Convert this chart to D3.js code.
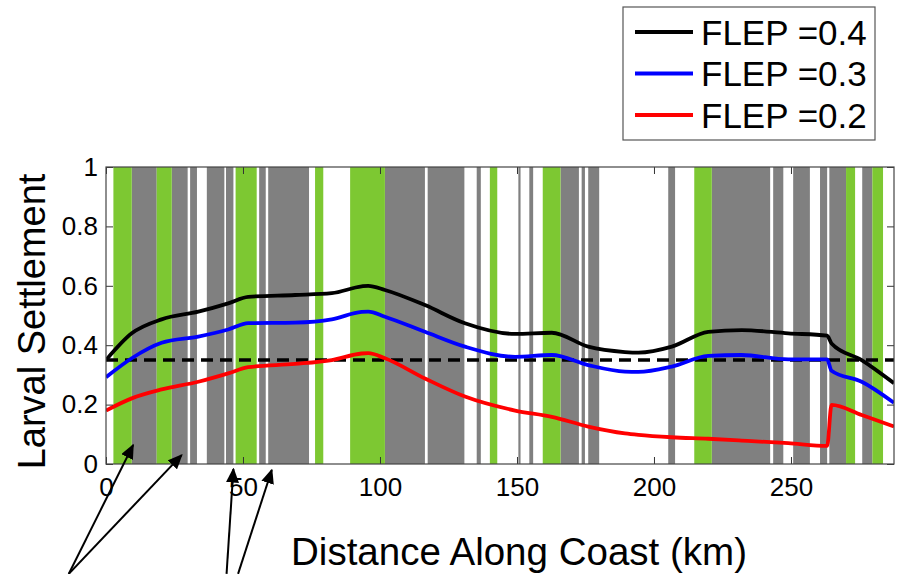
<!DOCTYPE html>
<html>
<head>
<meta charset="utf-8">
<script src="https://cdn.jsdelivr.net/npm/d3@7"></script>
<style>
  body { margin: 0; background: #fff; }
  text { font-family: "Liberation Sans", Arial, sans-serif; fill: #000; }
</style>
</head>
<body>
<svg id="chart" width="897" height="574"></svg>
<script>
// distance along coast (km) where each curve was sampled
const distance = [0, 9.4, 20.3, 33.7, 44.6, 51.9, 69, 82.4, 93.3, 95.7, 101.8, 116.4, 131, 149.3, 162.7, 176, 189.4, 194.3, 206.5, 219.8, 232, 249, 263.2, 264.8, 275.8, 287.6];
const flep04 = [0.35, 0.44, 0.487, 0.513, 0.541, 0.563, 0.569, 0.575, 0.598, 0.600, 0.586, 0.535, 0.474, 0.438, 0.442, 0.395, 0.377, 0.375, 0.395, 0.445, 0.451, 0.44, 0.432, 0.406, 0.35, 0.272];
const flep03 = [0.292, 0.356, 0.408, 0.429, 0.453, 0.474, 0.476, 0.487, 0.512, 0.513, 0.496, 0.445, 0.395, 0.361, 0.367, 0.333, 0.311, 0.31, 0.328, 0.364, 0.367, 0.352, 0.352, 0.314, 0.277, 0.206];
const flep02 = [0.18, 0.221, 0.251, 0.277, 0.305, 0.326, 0.337, 0.35, 0.372, 0.373, 0.356, 0.288, 0.227, 0.18, 0.159, 0.126, 0.103, 0.098, 0.09, 0.085, 0.079, 0.07, 0.061, 0.199, 0.165, 0.126];
const threshold = 0.35;

// habitat bands [start km, end km]
const greenBands = [[2.7, 9.4], [18.5, 24.0], [47.3, 55.0], [76.3, 79.3], [89.1, 101.8], [140.1, 142.8], [159.4, 165.9], [214.7, 221.1], [270.1, 273.4], [279.7, 283.6]];
const grayBands = [[9.4, 18.5], [24.0, 29.8], [30.7, 33.2], [36.8, 43.2], [43.8, 46.5], [55.9, 58.3], [59.2, 74.1], [101.8, 116.4], [117.4, 130.8], [135.3, 136.8], [150.5, 151.3], [154.5, 155.9], [165.9, 172.6], [173.6, 174.8], [176.0, 180.0], [205.2, 207.7], [221.1, 242.4], [243.5, 247.2], [250.8, 256.9], [260.6, 263.2], [264.0, 270.1], [276.0, 279.7]];

const xTicks = [0, 50, 100, 150, 200, 250];
const yTicks = [0, 0.2, 0.4, 0.6, 0.8, 1];

// annotation arrows: tail [km, value] -> tip [km, value]
const arrows = [[[-13.6, -0.37], [9.9, 0.064]], [[-13.6, -0.37], [27.6, 0.03]], [[44, -0.37], [46.5, -0.017]], [[48.2, -0.37], [60.5, -0.02]]];

const series = [
  {name: "FLEP =0.4", values: flep04, color: "#000"},
  {name: "FLEP =0.3", values: flep03, color: "#0000ff"},
  {name: "FLEP =0.2", values: flep02, color: "#ff0000"}
];

const svg = d3.select("#chart");
const mLeft = 106, mRight = 894, mTop = 167, mBottom = 464;

const x = d3.scaleLinear().domain([0, 287.6]).range([mLeft, mRight]);
const y = d3.scaleLinear().domain([0, 1]).range([mBottom, mTop]);

const defs = svg.append("defs");
defs.append("clipPath").attr("id", "plotclip")
  .append("rect").attr("x", mLeft).attr("y", mTop)
  .attr("width", mRight - mLeft).attr("height", mBottom - mTop);

const plot = svg.append("g").attr("clip-path", "url(#plotclip)");

plot.selectAll(".gray").data(grayBands).enter().append("rect")
  .attr("x", d => x(d[0])).attr("width", d => x(d[1]) - x(d[0]))
  .attr("y", mTop).attr("height", mBottom - mTop)
  .attr("fill", "#808080");

plot.selectAll(".green").data(greenBands).enter().append("rect")
  .attr("x", d => x(d[0])).attr("width", d => x(d[1]) - x(d[0]))
  .attr("y", mTop).attr("height", mBottom - mTop)
  .attr("fill", "#7dc832");

// threshold line
plot.append("line")
  .attr("x1", x(0)).attr("x2", x(287.6))
  .attr("y1", y(threshold)).attr("y2", y(threshold))
  .attr("stroke", "#000").attr("stroke-width", 3.6)
  .attr("stroke-dasharray", "12,7");

const line = d3.line()
  .x((d, i) => x(distance[i]))
  .y(d => y(d))
  .curve(d3.curveMonotoneX);

plot.selectAll(".series").data(series).enter().append("path")
  .attr("d", d => line(d.values))
  .attr("fill", "none")
  .attr("stroke", d => d.color)
  .attr("stroke-width", 3.8)
  .attr("stroke-linejoin", "round");

// axes, inward ticks on all four sides
const tickLen = 7;
svg.append("g").attr("transform", `translate(0,${mBottom})`)
  .call(d3.axisBottom(x).tickValues(xTicks).tickSize(-tickLen).tickPadding(14).tickFormat(d3.format("d")))
  .call(g => g.select(".domain").remove())
  .call(g => g.selectAll("text").attr("font-size", 26).attr("font-family", "Liberation Sans, Arial, sans-serif"));

svg.append("g").attr("transform", `translate(0,${mTop})`)
  .call(d3.axisTop(x).tickValues(xTicks).tickSize(-tickLen).tickFormat(""))
  .call(g => g.select(".domain").remove());

svg.append("g").attr("transform", `translate(${mLeft},0)`)
  .call(d3.axisLeft(y).tickValues(yTicks).tickSize(-tickLen).tickPadding(8).tickFormat(d3.format("")))
  .call(g => g.select(".domain").remove())
  .call(g => g.selectAll("text").attr("font-size", 26).attr("font-family", "Liberation Sans, Arial, sans-serif"));

svg.append("g").attr("transform", `translate(${mRight},0)`)
  .call(d3.axisRight(y).tickValues(yTicks).tickSize(-tickLen).tickFormat(""))
  .call(g => g.select(".domain").remove());

svg.selectAll(".tick line").attr("stroke", "#333");

svg.append("rect")
  .attr("x", mLeft).attr("y", mTop)
  .attr("width", mRight - mLeft).attr("height", mBottom - mTop)
  .attr("fill", "none").attr("stroke", "#444").attr("stroke-width", 1.2);

// axis titles
svg.append("text")
  .attr("x", 519).attr("y", 565)
  .attr("text-anchor", "middle").attr("font-size", 38)
  .attr("textLength", 456).attr("lengthAdjust", "spacingAndGlyphs")
  .text("Distance Along Coast (km)");

svg.append("text")
  .attr("transform", `translate(45,${(mTop + mBottom) / 2 + 6}) rotate(-90)`)
  .attr("text-anchor", "middle").attr("font-size", 38)
  .text("Larval Settlement");

// annotation arrows
defs.append("marker").attr("id", "head")
  .attr("viewBox", "0 0 10 10").attr("refX", 9).attr("refY", 5)
  .attr("markerWidth", 15).attr("markerHeight", 13)
  .attr("markerUnits", "userSpaceOnUse")
  .attr("orient", "auto")
  .attr("preserveAspectRatio", "none")
  .append("path").attr("d", "M0,0 L10,5 L0,10 Z").attr("fill", "#000");

svg.selectAll(".arrow").data(arrows).enter().append("line")
  .attr("x1", d => x(d[0][0])).attr("y1", d => y(d[0][1]))
  .attr("x2", d => x(d[1][0])).attr("y2", d => y(d[1][1]))
  .attr("stroke", "#000").attr("stroke-width", 2)
  .attr("marker-end", "url(#head)");

// legend
const lg = svg.append("g");
lg.append("rect")
  .attr("x", 623).attr("y", 7).attr("width", 252).attr("height", 133)
  .attr("fill", "#fff").attr("stroke", "#555").attr("stroke-width", 1.2);

const rows = lg.selectAll(".row").data(series).enter().append("g")
  .attr("transform", (d, i) => `translate(0,${32 + i * 41.5})`);
rows.append("line")
  .attr("x1", 635).attr("x2", 693)
  .attr("stroke", d => d.color).attr("stroke-width", 3.8);
rows.append("text")
  .attr("x", 701).attr("y", 12.5)
  .attr("font-size", 35)
  .text(d => d.name);
</script>
</body>
</html>
